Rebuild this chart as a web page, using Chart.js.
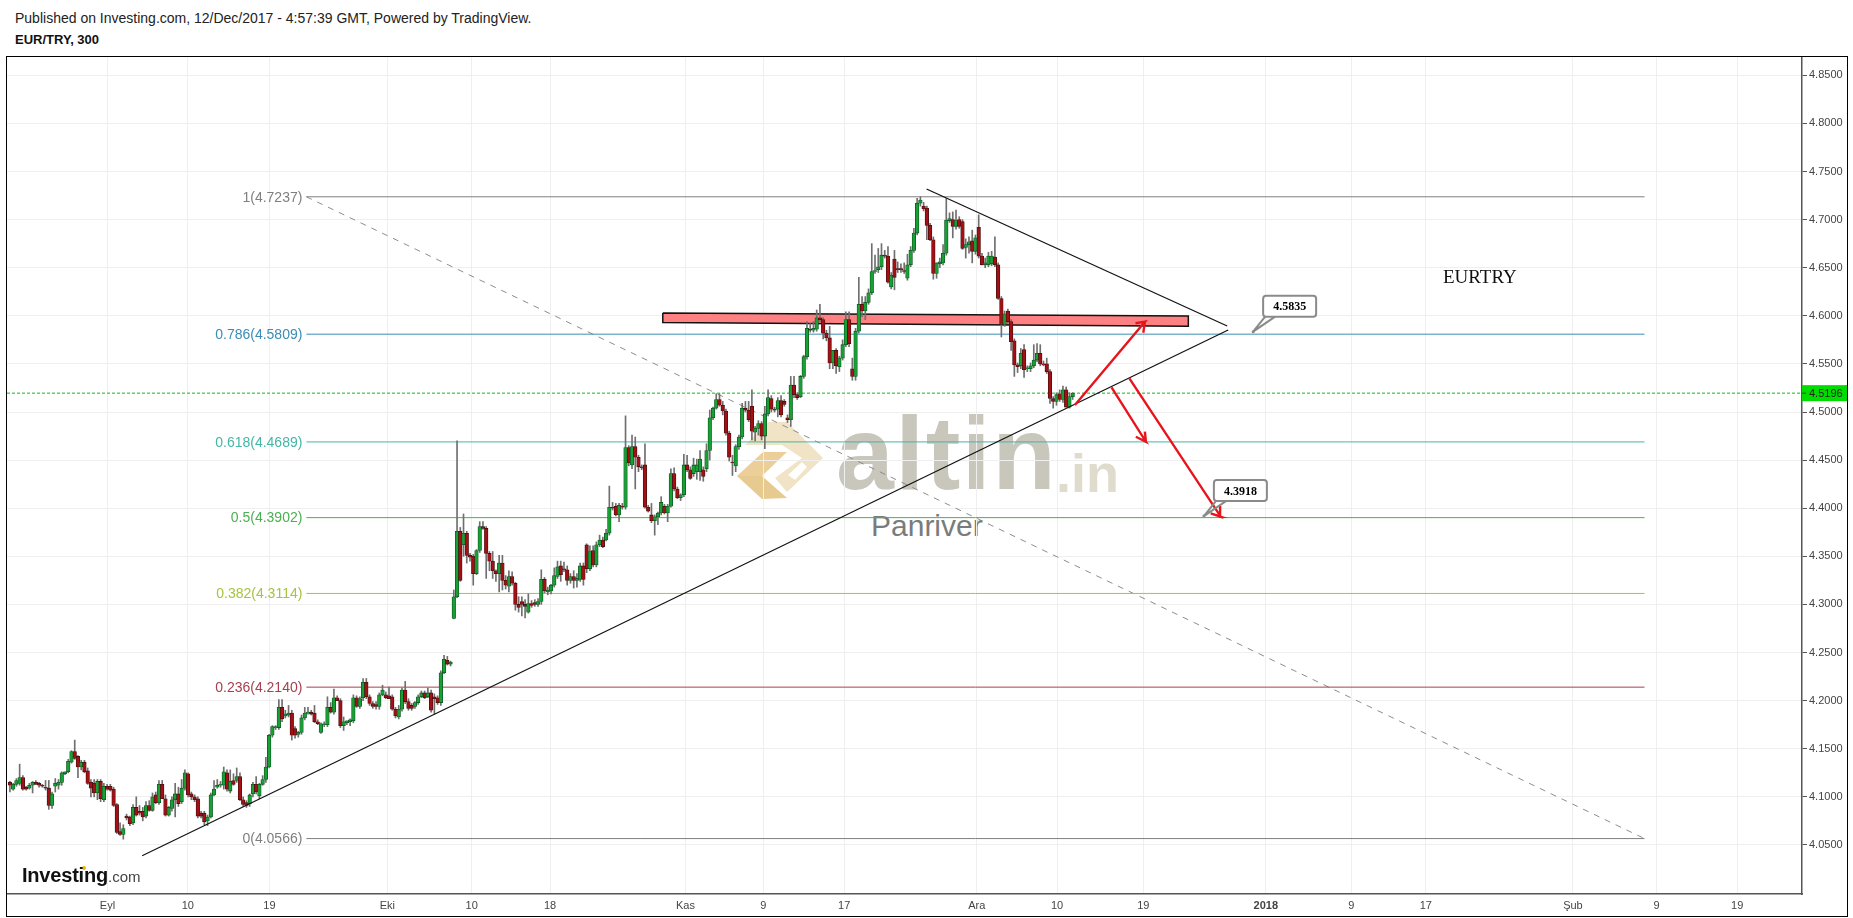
<!DOCTYPE html>
<html lang="en">
<head>
    <meta charset="UTF-8">
    <title>EUR/TRY, 300</title>
    <script src="https://cdn.jsdelivr.net/npm/chart.js@4"></script>
    <style>
        html, body { margin: 0; padding: 0; background: #fff; overflow: hidden; }
        body { width: 1853px; height: 918px; position: relative; font-family: "Liberation Sans", Arial, sans-serif; }
        #lineChart { position: absolute; left: 0; top: 0; z-index: 2; }
        #frame { position: absolute; left: 6px; top: 56px; width: 1840px; height: 859px; border: 1px solid #000; z-index: 3; }
        .txt { position: absolute; white-space: nowrap; line-height: 1; }
        #logo { position: absolute; left: 0; top: 0; z-index: 0; }
    </style>
</head>
<body>
    <div class="txt" style="left:15px;top:11px;font-size:14px;color:#222;">Published on Investing.com, 12/Dec/2017 - 4:57:39 GMT, Powered by TradingView.</div>
    <div class="txt" style="left:15px;top:33px;font-size:13px;font-weight:bold;color:#111;">EUR/TRY, 300</div>

    <!-- watermark sits under the transparent canvas -->
    <svg id="logo" width="1853" height="918">
        <polygon points="745,445 768,422 787,422 823,458 787,492 775,478 802,458 782,445" fill="#f0e3c6"/>
        <polygon points="788,475 802,462 807,467 795,480" fill="#fff"/>
        <polygon points="737,476 763,452 787,452 762,476" fill="#eccf98"/>
        <polygon points="737,476 762,476 787,498 762,499" fill="#e6ca8f"/>
        <circle cx="84" cy="868" r="2" fill="#f0b400"/>
    </svg>
    <div class="txt" style="left:836px;top:401px;font-size:104px;font-weight:bold;letter-spacing:1.5px;color:#c9c6bb;z-index:1;">altin</div>
    <div class="txt" style="left:1056px;top:446px;font-size:54px;font-weight:bold;color:#dfdbcd;z-index:1;">.in</div>
    <div class="txt" style="left:871px;top:511px;font-size:30px;color:#7a7c7c;z-index:1;">Panriver</div>
    <div class="txt" style="left:22px;top:865px;font-size:20px;font-weight:bold;letter-spacing:-0.2px;color:#111;z-index:4;">Investing<span style="font-size:15px;font-weight:normal;letter-spacing:0;color:#444;">.com</span></div>
    <div class="txt" style="left:1443px;top:267px;font-family:'Liberation Serif',serif;font-size:19px;color:#111;z-index:4;">EURTRY</div>

    <canvas id="lineChart" width="1853" height="918"></canvas>
    <div id="frame"></div>

    <script>
        // 300 minute bars, index = bar number
        var opens = [
            4.115,4.108,4.113,4.114,4.120,4.110,4.109,4.112,4.115,4.114,
            4.112,4.110,4.109,4.091,4.111,4.112,4.115,4.124,4.126,4.136,
            4.147,4.142,4.131,4.136,4.127,4.115,4.114,4.104,4.116,4.097,
            4.111,4.111,4.108,4.092,4.064,4.061,4.080,4.079,4.073,4.089,
            4.085,4.085,4.080,4.091,4.086,4.102,4.094,4.113,4.098,4.081,
            4.088,4.097,4.103,4.095,4.109,4.124,4.103,4.100,4.098,4.083,
            4.083,4.075,4.079,4.102,4.110,4.112,4.112,4.125,4.106,4.117,
            4.117,4.121,4.097,4.094,4.093,4.103,4.113,4.101,4.113,4.118,
            4.131,4.164,4.172,4.172,4.193,4.184,4.185,4.187,4.171,4.165,
            4.167,4.182,4.187,4.188,4.187,4.178,4.167,4.175,4.175,4.193,
            4.188,4.203,4.200,4.174,4.177,4.178,4.179,4.203,4.194,4.203,
            4.219,4.204,4.197,4.196,4.194,4.206,4.206,4.205,4.204,4.191,
            4.183,4.191,4.211,4.199,4.195,4.194,4.198,4.204,4.208,4.204,
            4.208,4.204,4.203,4.198,4.229,4.242,4.238,
            4.2855,4.308,4.376,4.362,4.374,4.351,4.350,4.332,4.356,4.381,
            4.379,4.353,4.345,4.335,4.332,4.343,4.325,4.319,4.329,4.322,
            4.300,4.303,4.300,4.292,4.301,4.302,4.300,4.303,4.326,4.313,
            4.314,4.320,4.329,4.340,4.337,4.336,4.325,4.329,4.325,4.326,
            4.340,4.362,4.337,4.356,4.341,4.362,4.367,4.367,4.374,4.401,
            4.402,4.393,4.402,4.401,4.463,4.445,4.464,4.453,4.443,4.445,
            4.401,4.393,4.387,4.391,4.395,4.402,4.395,4.402,4.436,4.420,
            4.411,4.414,4.445,4.440,4.436,4.438,4.438,4.440,4.441,4.460,
            4.494,4.504,4.513,4.507,4.501,4.478,4.448,4.444,4.464,4.474,
            4.504,4.502,4.506,4.479,4.483,4.488,4.475,4.498,4.514,4.503,
            4.503,4.512,4.511,4.494,4.492,4.528,4.518,4.516,4.537,4.5575,
            4.586,4.585,4.586,4.598,4.596,4.582,4.577,4.551,4.564,4.547,
            4.556,4.570,4.596,4.545,4.537,4.584,4.612,4.605,4.614,4.624,
            4.646,4.648,4.651,4.663,4.662,4.630,4.659,4.649,4.649,4.647,4.639,
            4.653,4.668,4.686,4.717,4.714,4.712,4.694,4.679,4.644,4.654,
            4.655,4.665,4.699,4.700,4.693,4.700,4.698,4.671,4.674,4.678,
            4.667,4.692,4.662,4.653,4.653,4.654,4.661,4.653,4.618,4.591,4.605,
            4.594,4.574,4.549,4.548,4.565,4.545,4.545,4.548,4.554,
            4.561,4.550,4.550,4.542,4.514,4.511,4.519,4.513,4.523,
            4.505,4.516
        ];
        var highs = [
            4.116,4.114,4.119,4.134,4.122,4.111,4.114,4.116,4.117,4.115,
            4.113,4.117,4.117,4.105,4.119,4.118,4.126,4.126,4.139,4.148,
            4.159,4.143,4.138,4.138,4.130,4.118,4.118,4.118,4.118,4.114,
            4.113,4.113,4.110,4.093,4.073,4.071,4.082,4.080,4.092,4.100,
            4.091,4.089,4.095,4.096,4.104,4.105,4.117,4.117,4.102,4.090,
            4.100,4.114,4.110,4.118,4.128,4.125,4.105,4.102,4.100,4.085,
            4.085,4.081,4.104,4.117,4.118,4.116,4.131,4.128,4.128,4.124,
            4.130,4.125,4.100,4.096,4.103,4.115,4.121,4.114,4.122,4.141,
            4.165,4.174,4.174,4.201,4.201,4.190,4.195,4.190,4.173,4.168,
            4.185,4.193,4.193,4.190,4.195,4.180,4.177,4.178,4.204,4.198,
            4.212,4.205,4.202,4.183,4.179,4.181,4.206,4.205,4.204,4.223,
            4.223,4.206,4.199,4.199,4.208,4.216,4.209,4.214,4.206,4.193,
            4.195,4.213,4.220,4.202,4.197,4.199,4.206,4.210,4.210,4.213,
            4.211,4.207,4.205,4.231,4.247,4.246,4.241,
            4.315,4.470,4.380,4.394,4.376,4.353,4.352,4.357,4.386,4.386,
            4.381,4.355,4.355,4.336,4.351,4.351,4.330,4.335,4.334,4.323,
            4.308,4.308,4.305,4.311,4.304,4.305,4.306,4.336,4.328,4.318,
            4.321,4.338,4.345,4.345,4.344,4.340,4.332,4.335,4.332,4.343,
            4.343,4.363,4.361,4.361,4.365,4.372,4.370,4.378,4.423,4.406,
            4.405,4.405,4.405,4.496,4.465,4.476,4.474,4.455,4.445,4.467,
            4.403,4.405,4.393,4.396,4.412,4.404,4.404,4.441,4.442,4.422,
            4.415,4.456,4.455,4.443,4.452,4.451,4.460,4.443,4.467,4.502,
            4.505,4.519,4.519,4.511,4.503,4.480,4.455,4.466,4.476,4.509,
            4.511,4.511,4.523,4.485,4.491,4.490,4.506,4.523,4.517,4.505,
            4.515,4.517,4.513,4.497,4.537,4.537,4.520,4.538,4.559,4.594,
            4.592,4.594,4.606,4.612,4.598,4.585,4.589,4.564,4.566,4.558,
            4.575,4.604,4.604,4.556,4.587,4.640,4.620,4.620,4.628,4.675,
            4.663,4.670,4.675,4.668,4.672,4.645,4.668,4.656,4.654,4.655,4.664,
            4.672,4.691,4.722,4.7237,4.718,4.714,4.696,4.682,4.655,4.660,
            4.674,4.722,4.707,4.708,4.710,4.703,4.700,4.680,4.682,4.689,
            4.684,4.705,4.665,4.660,4.666,4.667,4.682,4.655,4.620,4.605,4.607,
            4.596,4.576,4.551,4.566,4.570,4.548,4.551,4.570,4.571,
            4.570,4.553,4.556,4.544,4.516,4.520,4.523,4.527,4.526,
            4.520,4.520
        ];
        var lows = [
            4.105,4.107,4.111,4.112,4.107,4.107,4.108,4.104,4.113,4.110,
            4.110,4.107,4.087,4.088,4.105,4.108,4.112,4.123,4.125,4.135,
            4.139,4.120,4.128,4.125,4.113,4.100,4.100,4.097,4.095,4.095,
            4.107,4.106,4.090,4.062,4.060,4.056,4.076,4.070,4.071,4.080,
            4.081,4.075,4.078,4.085,4.085,4.093,4.092,4.098,4.080,4.080,
            4.085,4.079,4.090,4.093,4.107,4.100,4.097,4.095,4.078,4.078,
            4.071,4.070,4.078,4.101,4.109,4.110,4.108,4.106,4.104,4.112,
            4.115,4.096,4.090,4.089,4.090,4.100,4.103,4.098,4.112,4.115,
            4.130,4.162,4.170,4.170,4.178,4.182,4.183,4.159,4.161,4.162,
            4.165,4.180,4.186,4.185,4.177,4.175,4.166,4.173,4.173,4.187,
            4.186,4.200,4.172,4.169,4.175,4.174,4.177,4.193,4.192,4.200,
            4.202,4.195,4.192,4.191,4.191,4.205,4.202,4.202,4.190,4.182,
            4.181,4.189,4.197,4.190,4.190,4.192,4.196,4.203,4.202,4.203,
            4.188,4.186,4.196,4.195,4.228,4.237,4.236,
            4.285,4.307,4.324,4.350,4.343,4.345,4.320,4.331,4.354,4.378,
            4.327,4.335,4.327,4.324,4.313,4.315,4.316,4.313,4.320,4.294,
            4.292,4.288,4.286,4.291,4.297,4.298,4.298,4.300,4.312,4.310,
            4.311,4.318,4.327,4.324,4.334,4.320,4.322,4.317,4.318,4.324,
            4.320,4.333,4.335,4.339,4.339,4.360,4.359,4.366,4.372,4.398,
            4.392,4.386,4.399,4.399,4.444,4.441,4.420,4.438,4.440,4.400,
            4.396,4.385,4.372,4.383,4.393,4.394,4.386,4.401,4.418,4.410,
            4.408,4.412,4.438,4.430,4.433,4.430,4.429,4.428,4.438,4.450,
            4.492,4.503,4.506,4.497,4.476,4.449,4.434,4.438,4.461,4.472,
            4.500,4.490,4.471,4.470,4.476,4.471,4.462,4.496,4.500,4.500,
            4.495,4.495,4.506,4.489,4.485,4.515,4.513,4.515,4.535,4.555,
            4.583,4.583,4.584,4.594,4.576,4.574,4.545,4.545,4.540,4.542,
            4.554,4.568,4.568,4.533,4.533,4.582,4.599,4.596,4.612,4.622,
            4.644,4.645,4.648,4.660,4.634,4.628,4.627,4.645,4.645,4.644,4.637,
            4.651,4.666,4.684,4.714,4.709,4.679,4.678,4.638,4.639,4.650,
            4.653,4.663,4.697,4.681,4.690,4.691,4.669,4.660,4.665,4.655,
            4.664,4.660,4.653,4.650,4.651,4.652,4.651,4.617,4.578,4.589,4.592,
            4.564,4.537,4.541,4.545,4.536,4.542,4.542,4.546,4.552,
            4.548,4.548,4.540,4.509,4.504,4.507,4.511,4.510,4.505,
            4.504,4.513
        ];
        var closes = [
            4.112,4.113,4.117,4.120,4.108,4.108,4.112,4.115,4.113,4.112,
            4.111,4.109,4.091,4.103,4.114,4.115,4.125,4.126,4.137,4.147,
            4.140,4.131,4.136,4.126,4.114,4.109,4.104,4.116,4.098,4.111,
            4.108,4.107,4.091,4.063,4.061,4.067,4.078,4.072,4.089,4.081,
            4.083,4.079,4.091,4.086,4.100,4.094,4.113,4.098,4.081,4.089,
            4.097,4.103,4.093,4.109,4.125,4.102,4.100,4.097,4.080,4.080,
            4.074,4.079,4.102,4.108,4.112,4.113,4.126,4.108,4.116,4.113,
            4.121,4.097,4.092,4.091,4.102,4.113,4.105,4.113,4.118,4.131,
            4.164,4.173,4.173,4.193,4.181,4.186,4.187,4.164,4.164,4.167,
            4.182,4.187,4.188,4.186,4.178,4.176,4.176,4.176,4.193,4.188,
            4.203,4.200,4.174,4.178,4.179,4.180,4.203,4.194,4.202,4.219,
            4.204,4.197,4.194,4.194,4.206,4.211,4.203,4.202,4.191,4.184,
            4.191,4.211,4.199,4.192,4.192,4.198,4.204,4.208,4.203,4.208,
            4.190,4.202,4.198,4.229,4.243,4.238,4.240,
            4.308,4.376,4.325,4.374,4.351,4.349,4.332,4.356,4.381,4.379,
            4.353,4.345,4.335,4.332,4.343,4.325,4.320,4.329,4.322,4.300,
            4.297,4.300,4.298,4.301,4.299,4.300,4.303,4.326,4.314,4.315,
            4.320,4.330,4.339,4.331,4.336,4.325,4.329,4.325,4.327,4.340,
            4.326,4.337,4.355,4.341,4.362,4.367,4.360,4.374,4.401,4.400,
            4.393,4.403,4.401,4.463,4.447,4.464,4.453,4.443,4.442,4.401,
            4.397,4.387,4.391,4.395,4.406,4.395,4.402,4.436,4.420,4.411,
            4.414,4.445,4.440,4.431,4.445,4.445,4.451,4.433,4.460,4.494,
            4.504,4.513,4.507,4.501,4.478,4.453,4.447,4.464,4.474,4.504,
            4.502,4.492,4.480,4.483,4.488,4.475,4.498,4.515,4.503,4.502,
            4.512,4.497,4.508,4.492,4.528,4.518,4.515,4.537,4.5575,4.587,
            4.585,4.587,4.598,4.596,4.582,4.577,4.551,4.564,4.548,4.556,
            4.570,4.596,4.571,4.537,4.584,4.612,4.605,4.614,4.624,4.646,
            4.647,4.651,4.663,4.662,4.635,4.642,4.640,4.648,4.648,4.646,4.653,
            4.668,4.686,4.717,4.7204,4.711,4.694,4.679,4.644,4.655,4.656,
            4.665,4.6996,4.701,4.693,4.699,4.693,4.670,4.674,4.677,4.667,
            4.681,4.662,4.653,4.655,4.662,4.662,4.653,4.618,4.591,4.602,4.594,
            4.573,4.549,4.547,4.561,4.544,4.546,4.548,4.554,4.561,
            4.550,4.549,4.542,4.514,4.511,4.518,4.513,4.523,4.505,
            4.516,4.5196
        ];

        // axes
        var xTickBars = [30.1, 54.9, 80.1, 116.5, 142.5, 166.7, 208.5, 232.5, 257.5, 298.4, 323.2, 349.8, 387.6, 414, 437, 482.4, 508.2, 533.1];
        var xTickLabels = ['Eyl', '10', '19', 'Eki', '10', '18', 'Kas', '9', '17', 'Ara', '10', '19', '2018', '9', '17', 'Şub', '9', '19'];
        var yTicks = [4.05, 4.1, 4.15, 4.2, 4.25, 4.3, 4.35, 4.4, 4.45, 4.5, 4.55, 4.6, 4.65, 4.7, 4.75, 4.8, 4.85];
        var xMin = -0.9, xMax = 553.1, yMin = 3.999, yMax = 4.869;

        // fibonacci retracement
        var fibNames = ['1', '0.786', '0.618', '0.5', '0.382', '0.236', '0'];
        var fibLevels = [4.7237, 4.5809, 4.4689, 4.3902, 4.3114, 4.2140, 4.0566];
        var fibColors = ['#7f7f7f', '#3a8db5', '#45b5a5', '#4caf50', '#a5c441', '#a83f4f', '#7f7f7f'];
        var fibFromBar = 91.5, fibToBar = 504.5;

        var lastPrice = 4.5196;

        // drawings, [bar, price]
        var supportLine = [[40.8, 4.0388], [376, 4.5852]];
        var resistLine = [[282.9, 4.7318], [375.7, 4.5894]];
        var band = [[201.5, 4.6029], [363.7, 4.5998], [363.7, 4.5891], [201.5, 4.5930], [201.5, 4.6029]];
        var arrowUp = [[328.7, 4.5073], [350.3, 4.5939], [347.4, 4.5922], [350.3, 4.5939], [349.8, 4.5824]];
        var arrowDown1 = [[340, 4.5257], [350.6, 4.4691], [347.5, 4.4743], [350.6, 4.4691], [350.3, 4.4795]];
        var arrowDown2 = [[345.5, 4.535], [373.7, 4.3912], [370.6, 4.3947], [373.7, 4.3912], [373.5, 4.4023]];
        var calloutBars = [383.7, 368.5];
        var calloutPrices = [4.5835, 4.3918];

        function toPoints(list) {
            return list.map(function(p) { return { x: p[0], y: p[1] }; });
        }

        function lineSet(list, color, width, order, dash) {
            return {
                type: 'line',
                data: toPoints(list),
                borderColor: color,
                borderWidth: width,
                borderDash: dash || [],
                pointRadius: 0,
                tension: 0,
                fill: false,
                order: order
            };
        }

        var datasets = [];

        // support / resistance band goes under the candles
        var bandSet = lineSet(band, '#111', 1.5, 6);
        bandSet.fill = 'shape';
        bandSet.backgroundColor = '#fd8082';
        datasets.push(bandSet);

        fibLevels.forEach(function(level, i) {
            datasets.push(lineSet([[fibFromBar, level], [fibToBar, level]], fibColors[i], 1, 5));
        });
        datasets.push(lineSet([[fibFromBar, fibLevels[0]], [fibToBar, fibLevels[6]]], '#8c8c8c', 1, 5, [6, 6]));
        datasets.push(lineSet([[xMin, lastPrice], [xMax, lastPrice]], '#12b812', 1, 5, [3, 2]));

        // candles are two floating bars, wick and body
        datasets.push({
            type: 'bar',
            data: highs.map(function(h, i) { return { x: i, y: [lows[i], h] }; }),
            backgroundColor: '#6f6f6f',
            barThickness: 1,
            grouped: false,
            order: 4
        });
        datasets.push({
            type: 'bar',
            data: opens.map(function(o, i) { return { x: i, y: [o, closes[i]] }; }),
            backgroundColor: opens.map(function(o, i) { return closes[i] >= o ? '#18a035' : '#a30f14'; }),
            borderColor: opens.map(function(o, i) { return closes[i] >= o ? '#0d5a22' : '#4a1010'; }),
            borderWidth: 0.8,
            borderSkipped: false,
            barThickness: 3.6,
            grouped: false,
            order: 3
        });

        datasets.push(lineSet(supportLine, '#111', 1.2, 2));
        datasets.push(lineSet(resistLine, '#111', 1.2, 2));
        datasets.push(lineSet(arrowUp, '#e8141c', 2.4, 1));
        datasets.push(lineSet(arrowDown1, '#e8141c', 2.4, 1));
        datasets.push(lineSet(arrowDown2, '#e8141c', 2.4, 1));

        // fib labels, price tag and the two callouts
        var overlayPlugin = {
            id: 'overlay',
            afterDatasetsDraw: function(chart) {
                var ctx = chart.ctx, xs = chart.scales.x, ys = chart.scales.y;
                ctx.save();

                ctx.font = '14px "Liberation Sans", Arial, sans-serif';
                ctx.textAlign = 'right';
                ctx.textBaseline = 'middle';
                fibLevels.forEach(function(level, i) {
                    ctx.fillStyle = fibColors[i];
                    ctx.fillText(fibNames[i] + '(' + level.toFixed(4) + ')', xs.getPixelForValue(fibFromBar) - 4, ys.getPixelForValue(level) + 1);
                });

                calloutBars.forEach(function(bar, i) {
                    var ax = xs.getPixelForValue(bar), ay = ys.getPixelForValue(calloutPrices[i]);
                    var bx = ax + 10, by = ay - 36, bw = 53, bh = 21;
                    ctx.beginPath();
                    ctx.roundRect(bx, by, bw, bh, 3);
                    ctx.fillStyle = '#fff';
                    ctx.fill();
                    ctx.strokeStyle = '#8a8a8a';
                    ctx.lineWidth = 2;
                    ctx.stroke();
                    ctx.beginPath();
                    ctx.moveTo(ax, ay);
                    ctx.lineTo(bx + 2, by + bh);
                    ctx.moveTo(ax, ay);
                    ctx.lineTo(bx + 12, by + bh);
                    ctx.stroke();
                    ctx.fillStyle = '#8a8a8a';
                    ctx.beginPath();
                    ctx.arc(ax, ay, 1.5, 0, Math.PI * 2);
                    ctx.fill();
                    ctx.fillStyle = '#000';
                    ctx.font = 'bold 12px "Liberation Serif", serif';
                    ctx.textAlign = 'center';
                    ctx.fillText(calloutPrices[i].toFixed(4), bx + bw / 2, by + bh / 2 + 1);
                });

                var py = ys.getPixelForValue(lastPrice);
                ctx.fillStyle = '#00dc00';
                ctx.fillRect(xs.right, py - 8, 45, 16);
                ctx.strokeStyle = '#444';
                ctx.lineWidth = 1;
                ctx.beginPath();
                ctx.moveTo(xs.right, py);
                ctx.lineTo(xs.right + 4, py);
                ctx.stroke();
                ctx.fillStyle = '#222';
                ctx.font = '11px "Liberation Sans", Arial, sans-serif';
                ctx.textAlign = 'left';
                ctx.fillText(lastPrice.toFixed(4), xs.right + 7, py + 1);
                ctx.restore();
            }
        };

        document.addEventListener('DOMContentLoaded', function() {
            var ctx = document.getElementById('lineChart').getContext('2d');
            new Chart(ctx, {
                type: 'bar',
                data: { datasets: datasets },
                plugins: [overlayPlugin],
                options: {
                    responsive: false,
                    animation: false,
                    layout: { padding: { left: 7, top: 57, right: 0, bottom: 0 } },
                    plugins: { legend: { display: false }, tooltip: { enabled: false } },
                    scales: {
                        x: {
                            type: 'linear',
                            offset: false,
                            min: xMin,
                            max: xMax,
                            afterBuildTicks: function(axis) {
                                axis.ticks = xTickBars.map(function(v) { return { value: v }; });
                            },
                            afterFit: function(axis) { axis.height = 24; },
                            grid: { color: '#efefef', drawTicks: false, offset: false },
                            border: { color: '#555', width: 1.5 },
                            ticks: {
                                autoSkip: false,
                                maxRotation: 0,
                                padding: 5,
                                color: '#444',
                                font: function(c) {
                                    return {
                                        family: '"Liberation Sans", Arial, sans-serif',
                                        size: 11,
                                        weight: xTickLabels[c.index] === '2018' ? 'bold' : 'normal'
                                    };
                                },
                                callback: function(value, index) { return xTickLabels[index]; }
                            }
                        },
                        y: {
                            position: 'right',
                            min: yMin,
                            max: yMax,
                            afterBuildTicks: function(axis) {
                                axis.ticks = yTicks.map(function(v) { return { value: v }; });
                            },
                            afterFit: function(axis) { axis.width = 51; },
                            grid: { color: '#efefef', tickColor: '#555', tickLength: 5 },
                            border: { color: '#555', width: 1.5 },
                            ticks: {
                                padding: 2,
                                color: '#444',
                                font: { family: '"Liberation Sans", Arial, sans-serif', size: 11 },
                                callback: function(value) { return Number(value).toFixed(4); }
                            }
                        }
                    }
                }
            });
        });
    </script>
</body>
</html>
